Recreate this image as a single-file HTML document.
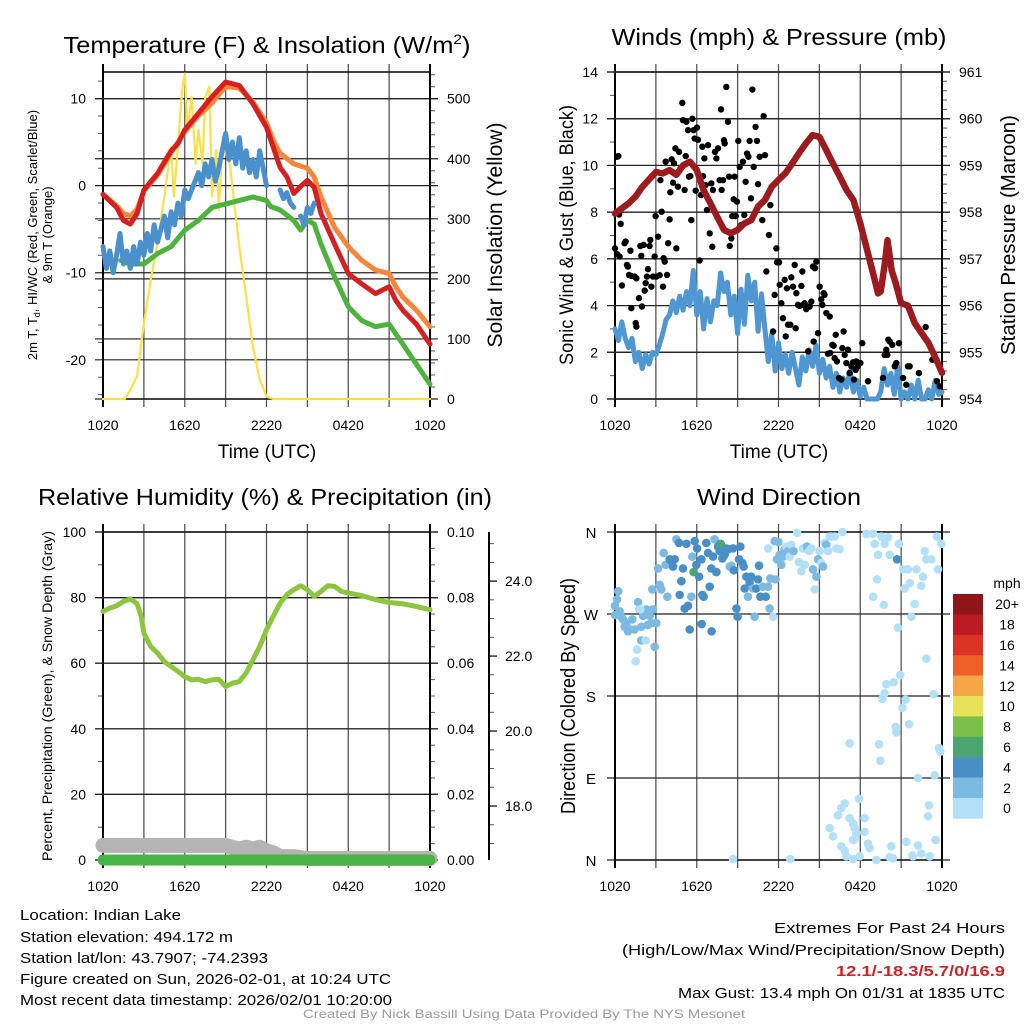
<!DOCTYPE html>
<html><head><meta charset="utf-8"><style>
html,body{margin:0;padding:0;background:#fff;}
svg{display:block;font-family:"Liberation Sans",Arial,sans-serif;}
</style></head><body>
<svg id="chart" width="1024" height="1024" viewBox="0 0 1024 1024" xmlns="http://www.w3.org/2000/svg">
<rect x="0" y="0" width="1024" height="1024" fill="#fff"/>
<text x="267" y="53" text-anchor="middle" font-size="23" textLength="407" lengthAdjust="spacingAndGlyphs">Temperature (F) &amp; Insolation (W/m<tspan dy="-9" font-size="14">2</tspan><tspan dy="9">)</tspan></text>
<text x="779" y="45" text-anchor="middle" font-size="23" textLength="335" lengthAdjust="spacingAndGlyphs">Winds (mph) &amp; Pressure (mb)</text>
<text x="265" y="505" text-anchor="middle" font-size="23" textLength="454" lengthAdjust="spacingAndGlyphs">Relative Humidity (%) &amp; Precipitation (in)</text>
<text x="779" y="505" text-anchor="middle" font-size="23" textLength="164" lengthAdjust="spacingAndGlyphs">Wind Direction</text>

<g font-size="15">
<text x="20" y="920" textLength="161" lengthAdjust="spacingAndGlyphs">Location: Indian Lake</text>
<text x="20" y="942" textLength="213" lengthAdjust="spacingAndGlyphs">Station elevation: 494.172 m</text>
<text x="20" y="963" textLength="248" lengthAdjust="spacingAndGlyphs">Station lat/lon: 43.7907; -74.2393</text>
<text x="20" y="984" textLength="371" lengthAdjust="spacingAndGlyphs">Figure created on Sun, 2026-02-01, at 10:24 UTC</text>
<text x="20" y="1005" textLength="372" lengthAdjust="spacingAndGlyphs">Most recent data timestamp: 2026/02/01 10:20:00</text>
</g>
<g font-size="15" text-anchor="end">
<text x="1005" y="933" textLength="231" lengthAdjust="spacingAndGlyphs">Extremes For Past 24 Hours</text>
<text x="1005" y="955" textLength="383" lengthAdjust="spacingAndGlyphs">(High/Low/Max Wind/Precipitation/Snow Depth)</text>
<text x="1005" y="976" textLength="169" lengthAdjust="spacingAndGlyphs" fill="#d42027" font-weight="bold">12.1/-18.3/5.7/0/16.9</text>
<text x="1005" y="998" textLength="327" lengthAdjust="spacingAndGlyphs">Max Gust: 13.4 mph On 01/31 at 1835 UTC</text>
</g>
<text x="524" y="1018" text-anchor="middle" font-size="12" fill="#9a9a9a" textLength="442" lengthAdjust="spacingAndGlyphs">Created By Nick Bassill Using Data Provided By The NYS Mesonet</text>
</svg>
<script>
// ---------- DATA ----------
const xTickLabels = ["1020","1620","2220","0420","1020"];
// Panel 1: temperatures (F) and insolation (W/m2); time in hours since 10:20 UTC
const redT = [0,1,1.5,2,2.5,3,4,5,5.5,6,7,8,9,10,11,12,12.5,13,13.5,14,14.5,15,15.5,16,17,18,19,20,21,21.5,22,23,24];
const redV = [-1,-2.5,-4,-4.4,-3.2,-0.5,1.4,4,4.8,6.4,8.3,10.2,11.9,11.5,9.4,6.7,4.4,2.1,1,-0.9,-0.1,0.6,-0.2,-3.2,-6.7,-10.1,-11.3,-12.4,-11.6,-13.2,-14.3,-15.9,-18.2];
const orangeT = [0,1,1.5,2,2.5,3,4,5,6,7,8,9,10,11,12,12.5,13,14,15,15.5,16,17,18,19,20,21,21.5,22,23,24];
const orangeV = [-1,-2.3,-3.2,-3.5,-2.7,-0.6,1.2,3.8,6.2,8,9.5,11.4,11.2,9.6,7.2,5.2,3.7,2.5,2,1,-1.3,-4.8,-7,-8.6,-9.7,-10.1,-11.6,-12.8,-14.3,-16.2];
const greenT = [1.3,2,3,4,5,6,7,8,9,10,11,12,12.3,13,14,14.5,15,15.5,16,17,18,19,20,21,22,23,24];
const greenV = [-8.6,-9,-9,-7.8,-7,-5.1,-4,-2.5,-2.1,-1.7,-1.3,-1.7,-2.4,-2.8,-4,-5.1,-4,-4.4,-6.7,-10.5,-13.9,-15.5,-16.2,-15.9,-18.2,-20.5,-22.8];
const chillV = [-7,-9.5,-7.5,-10,-8,-5.5,-9,-7.5,-9.5,-7,-9,-6.5,-8,-5.5,-7.5,-4.5,-6.5,-5,-3.5,-6,-3,-4.5,-2,-3.5,-0.5,-1.5,-0.5,0.5,1.5,0,2.5,1,3,0.5,2,4,6,3,5,2.5,5.5,2,4,1.5,3,1,4,2,0,null,null,null,-0.5,-1.5,-0.8,-2,-2.5,null,-3.5,-4.5,-2.5,-3.2,-2];
const solarT = [0,1.6,2,2.5,3,3.5,4,4.5,5,5.2,5.5,5.8,6,6.2,6.5,6.8,7,7.3,7.5,7.8,8,8.3,8.5,8.8,9,9.3,9.5,10,10.5,11,11.5,12,12.5,24];
const solarV = [0,0,15,38,126,198,259,337,420,337,420,514,542,448,503,392,448,392,503,520,337,415,315,437,409,392,353,254,171,88,32,4,0,0];
// Panel 2: wind (mph), gust (mph), pressure (mb)
const windV = [3.0,2.5,3.3,2.6,2.2,2.6,1.6,2.0,1.3,1.9,1.5,2.0,1.9,2.3,2.8,3.4,3.6,4.2,3.7,4.4,3.8,4.6,4.0,5.5,3.6,4.6,3.0,4.3,3.3,4.2,4.0,5.4,4.6,5.0,3.6,4.4,2.8,4.7,3.2,5.3,4.2,5.0,2.9,4.5,3.0,1.6,2.8,1.2,2.4,1.3,1.9,1.1,2.0,1.3,0.6,1.8,1.2,2.1,1.4,2.3,1.1,1.7,0.9,1.4,0.5,1.1,0.3,0.9,0.5,1.2,0.3,0.8,0.1,0.5,0,0,0,0,0.3,1.3,0.6,1.1,0.2,1.4,0,0.3,0,0.6,0,0.8,0,0,0.4,0,0.8,0.2,0.3];
const gustT = [0,0.15,0.24,0.15,0.34,0.3,0.42,0.51,0.7,0.78,0.88,0.95,1.03,1.2,1.44,1.57,1.13,1.2,1.52,1.57,1.76,1.86,1.93,1.98,2.1,2.18,2.25,2.35,2.42,2.54,2.59,2.67,2.79,2.91,2.98,3.03,3.16,3.28,3.33,3.42,3.52,3.57,3.65,3.72,3.82,3.9,4.01,4.06,4.16,4.26,4.33,4.43,4.5,4.62,4.7,4.8,4.94,4.99,5.11,5.19,5.24,5.36,5.43,5.53,5.6,5.68,5.77,5.85,5.92,6.02,6.09,6.21,6.31,6.41,6.46,6.56,6.65,6.75,6.83,6.95,7.07,7.14,7.19,7.34,7.44,7.56,7.68,7.78,7.83,7.93,8.0,8.05,8.17,8.29,8.37,8.42,8.54,8.61,8.71,8.78,8.86,8.95,9.05,9.15,9.27,9.39,9.49,9.59,9.69,9.79,9.88,9.98,10.08,10.18,10.32,10.42,10.5,10.62,10.74,10.81,10.91,11.01,11.11,11.3,11.4,11.6,11.72,11.84,11.89,12.04,12.09,12.21,12.33,12.45,12.53,12.62,12.7,12.87,12.94,13.06,13.19,13.26,13.31,13.43,13.55,13.68,13.75,13.8,13.92,14.04,14.17,14.29,14.41,14.53,14.58,14.68,14.78,14.9,15.02,15.14,15.22,15.31,15.38,15.51,15.63,15.76,15.8,15.95,16.05,16.12,16.2,16.29,16.44,16.61,16.69,16.78,16.86,16.98,17.1,17.22,17.35,17.47,17.54,17.66,17.71,17.83,18.01,18.15,18.57,19.67,19.79,19.91,19.99,20.06,20.16,20.35,20.53,20.65,20.84,21.14,21.38,21.5,21.63,22.31,22.8,23.29,23.63,23.83];
const gustV = [6.45,10.37,10.4,6.2,6.1,7.9,7.5,4.86,6.67,6.74,5.74,5.67,5.31,5.27,5.24,5.17,6.35,3.89,3.25,3.1,4.32,6.55,6.13,3.96,6.6,4.64,4.96,5.24,5.56,6.55,6.81,4.81,5.24,6.1,7.83,5.24,6.95,5.3,9.37,8.02,4.81,6.03,5.88,10.16,5.31,6.67,7.69,8.85,10.26,9.26,10.09,10.73,6.45,9.09,10.58,9.87,12.68,11.94,8.95,10.4,11.87,11.51,9.52,9.54,7.66,12.0,11.51,11.15,8.92,11.62,11.1,5.93,8.73,10.8,9.54,10.3,9.16,8.09,10.87,7.09,9.23,6.52,8.95,10.58,10.3,10.73,9.37,12.4,8.95,9.37,11.08,10.94,13.36,11.87,9.52,6.55,6.88,7.83,8.55,9.52,7.83,8.45,11.05,9.94,7.45,10.16,7.88,9.3,10.51,10.37,11.05,8.59,13.25,9.94,11.65,11.05,9.2,10.37,8.38,7.66,12.11,10.44,5.46,7.02,8.3,2.89,4.46,6.45,5.85,5.85,4.89,4.1,3.46,5.1,2.68,4.74,3.18,3.18,5.21,4.81,5.74,3.03,4.53,4.03,3.99,4.84,5.46,4.03,4.1,3.85,2.04,3.96,4.17,5.67,2.46,5.6,5.88,2.82,4.81,4.27,4.03,4.53,4.46,3.68,1.94,3.53,1.97,2.32,2.28,1.75,2.75,1.61,0.9,0.83,2.18,2.89,1.89,1.54,2.11,1.11,1.4,1.57,0.83,1.25,1.61,1.4,1.54,2.39,0.76,0.9,1.89,2.11,1.89,2.54,2.46,2.32,1.4,1.54,2.39,0.9,0.61,1.4,1.4,1.11,3.08,1.68,0.76,0.54];
const presT = [0,1,1.5,2,3,3.5,4,4.5,5,5.5,6,6.5,7,7.5,8,8.5,9,9.5,10,10.5,11,11.5,12,12.5,13,13.5,14,14.5,15,15.5,16,16.5,17,17.5,18,18.5,19,19.3,19.5,19.8,20,20.3,20.6,21,21.5,22,22.5,23,23.5,24];
const presV = [957.97,958.19,958.33,958.54,958.86,958.83,958.9,958.8,959.0,959.08,958.9,958.47,958.19,957.9,957.62,957.55,957.62,957.76,957.83,958.12,958.26,958.54,958.69,958.83,959.04,959.26,959.47,959.65,959.61,959.33,959.04,958.76,958.47,958.26,957.76,957.19,956.62,956.26,956.3,956.9,957.4,956.76,956.48,956.05,956.0,955.62,955.41,955.2,954.9,954.56];
// Panel 3: RH (%), precipitation (in), snow depth (in)
const rhT = [0,0.5,1,1.5,2,2.5,2.8,3,3.5,4,4.5,5,5.5,6,6.5,7,7.5,8,8.5,9,9.5,10,10.5,11,11.5,12,12.5,13,13.5,14,14.5,15,15.5,16,16.5,17,17.5,18,19,20,21,22,23,24];
const rhV = [75.8,76.8,77.5,78.8,79.6,78.1,74.3,69.2,65.1,63.1,60.5,59,57.5,55.9,54.9,55.1,54.4,54.9,55.1,52.9,53.9,54.4,57,61,65.1,70.2,74.3,78.3,80.9,82.4,83.6,82.4,80.4,81.9,83.6,83.4,81.9,81.4,80.6,79.4,78.5,78.1,77.3,76.3];
const precipT = [0,24];
const precipV = [0,0];
const snowT = [0,9,9.5,10,10.5,11,11.5,12,12.5,13,14,15,24];
const snowV = [16.95,16.95,16.9,16.85,16.9,16.85,16.9,16.8,16.75,16.65,16.65,16.6,16.6];
// Panel 4: wind direction (deg) colored by speed (mph)
const dirT = [0,0,0.24,0.15,0.34,0.46,0.59,0.71,0.83,0.95,1.08,1.27,1.44,1.69,1.81,1.93,2.06,2.18,2.3,2.42,2.54,2.67,2.79,2.91,3.03,1.93,1.61,1.52,2.25,1.86,2.74,3.16,3.28,3.4,3.57,3.72,3.84,4.01,4.13,4.26,4.38,4.5,4.7,4.75,4.87,4.99,5.11,5.24,5.36,5.48,5.6,5.68,5.77,5.85,5.97,6.02,6.17,6.34,6.41,6.51,6.36,6.7,6.83,6.95,7.07,7.09,7.19,7.31,7.44,7.56,7.68,7.76,7.88,8.05,8.17,8.29,8.42,8.54,8.66,8.71,8.91,9.0,9.1,9.2,9.35,9.44,9.52,9.64,9.76,9.88,10.0,10.13,10.25,10.37,10.5,10.57,10.67,10.86,11.06,11.23,11.35,11.4,11.6,11.72,11.79,11.89,11.99,12.09,12.21,12.33,12.45,12.57,12.7,12.82,12.94,13.11,13.36,13.5,13.68,13.8,13.92,14.09,14.24,14.41,14.53,14.66,14.78,14.9,15.02,15.14,15.27,15.39,15.51,15.63,15.76,15.88,16.12,16.24,16.49,16.69,11.25,18.45,18.94,19.06,19.3,19.55,19.79,20.04,20.16,19.23,18.94,19.72,20.7,20.84,21.14,21.26,21.5,21.63,21.75,21.99,22.12,22.48,22.6,22.73,22.85,23.22,23.63,23.71,23.95,20.77,22.85,19.91,20.45,20.94,19.79,19.62,21.33,21.09,20.6,20.65,21.58,23.39,19.38,19.47,23.78,23.88,22.24,23.46,23.05,22.97,17.22,17.91,16.86,16.61,16.37,17.22,17.47,17.59,18.32,17.71,18.32,15.76,16.0,16.61,16.86,17.47,17.59,18.57,18.69,17.96,17.47,16.98,19.18,20.28,20.16,20.4,21.38,21.87,22.24,22.48,23.1,23.53,8.66,12.87,21.82];
const dirDeg = [279,269,295,286,273,267,264,256,260,251,253,264,253,283,275,256,268,269,275,258,268,260,275,234,260,241,231,218,241,275,297,320,302,297,337,324,289,330,328,322,330,352,348,291,306,320,276,347,279,253,289,333,316,350,324,342,311,330,291,289,259,348,337,300,320,251,333,352,316,344,339,347,331,335,342,341,322,323,342,318,276,267,330,344,326,322,298,311,289,305,311,298,267,298,308,323,289,300,289,300,276,309,267,350,308,330,349,335,324,333,341,344,339,333,346,339,359,327,317,342,324,344,339,342,319,297,311,330,339,326,322,348,346,339,355,355,355,342,341,360,342,358,358,347,335,355,347,354,335,308,289,280,330,347,319,298,319,304,267,281,319,301,311,339,330,330,355,319,347,255,221,193,195,203,183,177,176,167,146,140,149,182,127,109,123,119,90,93,60,48,128,67,62,57,49,46,40,35,46,29,31,35,26,15,10,22,23,18,13,4,1,4,0,15,3,2,20,4,16,7,4,22,1,1,5];
const dirSpd = [3,3,3,3,3,3,3,3,3,3,3,3,3,3,3,3,3,3,3,3,3,3,3,3,3,3,1,1,1,1,3,3,3,3,3,3,3,5,5,5,5,3,5,5,5,5,5,5,5,5,3,3,7,5,5,5,5,5,5,5,5,5,5,5,5,5,5,3,5,5,5,7,5,5,5,5,3,3,5,5,5,5,5,5,5,5,5,5,3,5,5,3,3,5,5,5,5,3,5,3,3,3,1,3,3,3,3,3,3,3,3,1,3,1,1,3,1,1,1,1,1,3,1,1,3,1,3,3,1,1,3,1,3,1,1,1,1,1,1,1,1,1,1,1,1,1,1,1,1,1,1,1,5,1,1,1,1,1,1,1,1,1,1,1,1,1,1,1,1,1,1,1,1,1,1,1,1,1,1,1,1,1,1,1,1,1,1,1,1,1,1,1,1,1,1,1,1,1,1,1,1,1,1,1,1,1,1,1,1,1,1,1,1,1,1,1,1,1,1,1,1,1,1,1,1,1,1,1];
const cbarLabels = ["20+","18","16","14","12","10","8","6","4","2","0"];
const cbarColors = ["#8e1518","#bb1c24","#dc3327","#ef6029","#f6a745","#e7e25a","#7cc04a","#4aa56e","#4a8ec6","#7cb9e3","#b3e0f7"];

// ---------- DRAWING ----------
const NS = "http://www.w3.org/2000/svg";
const svg = document.getElementById("chart");
function el(tag, attrs, parent) {
  const e = document.createElementNS(NS, tag);
  for (const k in attrs) e.setAttribute(k, attrs[k]);
  (parent || svg).appendChild(e);
  return e;
}
const P1 = {x0:103, x1:430, y0:72, y1:399};
const P2 = {x0:615, x1:942, y0:72, y1:399};
const P3 = {x0:103, x1:430, y0:532, y1:860};
const P4 = {x0:615, x1:942, y0:532, y1:860};
function xs(p, h) { return p.x0 + h / 24 * (p.x1 - p.x0); }
function ys(p, v, lo, hi) { return p.y1 - (v - lo) / (hi - lo) * (p.y1 - p.y0); }

function frame(p, name) {
  const g = el("g", {});
  
  
  for (let i = 0; i <= 8; i++) {
    const x = p.x0 + i * (p.x1 - p.x0) / 8;
    const l = el("line", {x1:x, x2:x, y1:p.y0-8, y2:p.y1+8, stroke:(i==0||i==8)?"#000":"#555", "stroke-width":(i==0||i==8)?2:1.3}, g);
    
    
  }
  const tl = el("line", {x1:p.x0, x2:p.x1, y1:p.y0, y2:p.y0, stroke:"#000", "stroke-width":1.5}, g);
  
  
  const bl = el("line", {x1:p.x0, x2:p.x1, y1:p.y1, y2:p.y1, stroke:"#000", "stroke-width":1.5}, g);
  
  
  for (let i = 0; i < 5; i++) {
    const t = el("text", {x:p.x0 + i*(p.x1-p.x0)/4, y:p.y1+31, "text-anchor":"middle", "font-size":14}, g);
    
    
    t.textContent = xTickLabels[i];
  }
  return g;
}
function yAxis(p, side, lo, hi, major, minor, fmt, name, extraX) {
  const g = el("g", {});
  
  
  const ax = side === "left" ? p.x0 : (extraX || p.x1);
  const dir = side === "left" ? -1 : 1;
  const start = Math.ceil(lo / minor - 1e-6);
  for (let k = start; k * minor <= hi + 1e-9; k++) {
    const v = k * minor;
    const y = ys(p, v, lo, hi);
    const isMajor = Math.abs(v / major - Math.round(v / major)) < 1e-6;
    if (isMajor) {
      if (!extraX) {
        const gl = el("line", {x1:p.x0-8, x2:p.x1+8, y1:y, y2:y, stroke:"#222", "stroke-width":1.2}, g);
        
        
      } else {
        const tk = el("line", {x1:ax, x2:ax+8, y1:y, y2:y, stroke:"#000", "stroke-width":1.2}, g);
        
        
      }
      const t = el("text", {x: ax + dir * (extraX ? 16 : 17), y: y + 5, "text-anchor": side === "left" ? "end" : "start", "font-size":14}, g);
      
      
      t.textContent = fmt(v);
    } else {
      const mk = el("line", {x1:ax, x2:ax + dir*5, y1:y, y2:y, stroke:"#555", "stroke-width":1}, g);
      
      
    }
  }
  const sp = el("line", {x1:ax, x2:ax, y1:p.y0, y2:p.y1, stroke:"#000", "stroke-width":2}, g);
  
  
}
function rotText(x, y, txt, size, len, name) {
  const t = el("text", {x:0, y:0, transform:`translate(${x},${y}) rotate(-90)`, "text-anchor":"middle", "font-size":size, textLength:len, lengthAdjust:"spacingAndGlyphs"});
  
  
  t.textContent = txt;
  return t;
}
function series(p, T, V, lo, hi, color, w, name, opacity) {
  let d = "", pen = false;
  for (let i = 0; i < T.length; i++) {
    if (V[i] === null || V[i] === undefined) { pen = false; continue; }
    d += (pen ? "L" : "M") + xs(p, T[i]).toFixed(1) + "," + ys(p, V[i], lo, hi).toFixed(1);
    pen = true;
  }
  const path = el("path", {d:d, fill:"none", stroke:color, "stroke-width":w, "stroke-linejoin":"round", "stroke-linecap":"round", opacity: opacity || 1});
  
  
  return path;
}

// Panel 1
frame(P1, "temperature");
const T_LO = -24.5, T_HI = 13.05, S_LO = 0, S_HI = 544.5;
yAxis(P1, "left", T_LO, T_HI, 10, 2, v => String(v), "temperature-y-axis");
yAxis(P1, "right", S_LO, S_HI, 100, 20, v => String(v), "insolation-y-axis");
series(P1, solarT, solarV, S_LO, S_HI, "#fbe04a", 2.2, "insolation-line");
series(P1, orangeT, orangeV, T_LO, T_HI, "#f7863a", 5, "temp-9m-line");
series(P1, greenT, greenV, T_LO, T_HI, "#4db33d", 5, "dewpoint-line");
series(P1, redT, redV, T_LO, T_HI, "#d42020", 5, "temp-2m-line");
const chillT = chillV.map((v, i) => i * 0.25);
series(P1, chillT, chillV, T_LO, T_HI, "#4a90cc", 5, "wind-chill-line");
{
  const t = el("text", {x:0, y:0, transform:"translate(37,235) rotate(-90)", "text-anchor":"middle", "font-size":13});
  
  
  t.innerHTML = '2m T, T<tspan font-size="9" dy="3">d</tspan><tspan dy="-3">, HI/WC (Red, Green, Scarlet/Blue)</tspan>';
  const t2 = el("text", {x:0, y:0, transform:"translate(52,235) rotate(-90)", "text-anchor":"middle", "font-size":13});
  
  
  t2.textContent = "& 9m T (Orange)";
}
rotText(502, 235, "Solar Insolation (Yellow)", 21, 225, "insolation-y-title");
{
  const t = el("text", {x:267, y:458, "text-anchor":"middle", "font-size":19});
  
  
  t.textContent = "Time (UTC)";
}

// Panel 2
frame(P2, "winds");
yAxis(P2, "left", 0, 14, 2, 1, v => String(v), "wind-y-axis");
yAxis(P2, "right", 954, 961, 1, 0.2, v => String(Math.round(v)), "pressure-y-axis");
const windT = windV.map((v, i) => i * 0.25);
series(P2, windT, windV, 0, 14, "#4f97d3", 5, "sonic-wind-line");
{
  const g = el("g", {});
  
  
  for (let i = 0; i < gustT.length; i++) {
    const c = el("circle", {cx:xs(P2, gustT[i]), cy:ys(P2, gustV[i], 0, 14), r:3.2, fill:"#000"}, g);
    
    
  }
}
series(P2, presT, presV, 954, 961, "#9b1b1e", 6.5, "pressure-line");
rotText(573, 235, "Sonic Wind & Gust (Blue, Black)", 19, 260, "wind-y-title");
rotText(1015, 235, "Station Pressure (Maroon)", 20, 240, "pressure-y-title");
{
  const t = el("text", {x:779, y:458, "text-anchor":"middle", "font-size":19});
  
  
  t.textContent = "Time (UTC)";
}

// Panel 3
frame(P3, "humidity");
yAxis(P3, "left", 0, 100, 20, 10, v => String(v), "humidity-y-axis");
yAxis(P3, "right", 0, 0.1, 0.02, 0.005, v => v.toFixed(2), "precip-y-axis");
const SN_LO = 16.56, SN_HI = 25.31;
yAxis(P3, "right", SN_LO, SN_HI, 2, 0.5, v => v.toFixed(1), "snow-y-axis", 489);
series(P3, snowT, snowV.map(v => (v - SN_LO) / (SN_HI - SN_LO) * 100), 0, 100, "#b4b4b4", 15, "snow-depth-line");
series(P3, precipT, precipV, 0, 0.1, "#48b445", 11, "precip-line");
series(P3, rhT, rhV, 0, 100, "#8cc63f", 5, "humidity-line");
rotText(52, 696, "Percent, Precipitation (Green), & Snow Depth (Gray)", 14, 330, "humidity-y-title");

// Panel 4
frame(P4, "direction");
{
  const dirLabels = ["N","E","S","W","N"];
  const g = el("g", {});
  
  
  for (let i = 0; i < 5; i++) {
    const y = ys(P4, i * 90, 0, 360);
    const gl = el("line", {x1:P4.x0-8, x2:P4.x1+8, y1:y, y2:y, stroke:"#222", "stroke-width":1.2}, g);
    
    
    const t = el("text", {x:591, y:y+6, "text-anchor":"middle", "font-size":15}, g);
    
    
    t.textContent = dirLabels[i];
  }
  const sp = el("line", {x1:P4.x0, x2:P4.x0, y1:P4.y0, y2:P4.y1, stroke:"#000", "stroke-width":2}, g);
  
  
}
function spdColor(s) {
  let bin = Math.min(10, Math.floor(s / 2));
  return cbarColors[10 - bin];
}
{
  const g = el("g", {});
  
  
  const n = Math.min(dirT.length, dirDeg.length, dirSpd.length);
  for (let i = 0; i < n; i++) {
    const c = el("circle", {cx:xs(P4, dirT[i]), cy:ys(P4, dirDeg[i], 0, 360), r:4.3, fill:spdColor(dirSpd[i])}, g);
    
    
  }
}
rotText(575, 696, "Direction (Colored By Speed)", 20, 236, "direction-y-title");
{
  const g = el("g", {});
  
  
  const top = 594, bh = 20.4;
  for (let i = 0; i < cbarColors.length; i++) {
    const r = el("rect", {x:953, y:top + i*bh, width:30, height:bh+0.3, fill:cbarColors[i]}, g);
    
    
    const t = el("text", {x:1007, y:top + i*bh + bh/2 + 5, "text-anchor":"middle", "font-size":14}, g);
    
    
    t.textContent = cbarLabels[i];
  }
  const u = el("text", {x:1007, y:588, "text-anchor":"middle", "font-size":14}, g);
  
  
  u.textContent = "mph";
}
</script>
</body></html>
